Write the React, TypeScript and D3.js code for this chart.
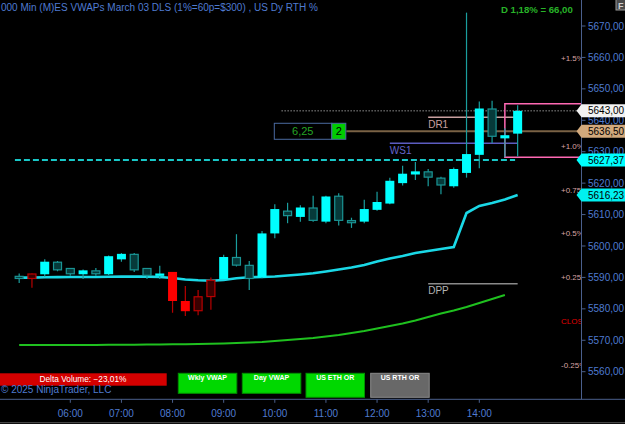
import * as d3 from "d3";

// 15-min bars, March 03
const barTimes = [
  "05:00", "05:15", "05:30", "05:45", "06:00", "06:15", "06:30", "06:45",
  "07:00", "07:15", "07:30", "07:45", "08:00", "08:15", "08:30", "08:45",
  "09:00", "09:15", "09:30", "09:45", "10:00", "10:15", "10:30", "10:45",
  "11:00", "11:15", "11:30", "11:45", "12:00", "12:15", "12:30", "12:45",
  "13:00", "13:15", "13:30", "13:45", "14:00", "14:15", "14:30", "14:45",
];
const opens = [
  5590.5, 5589.5, 5591.0, 5595.0, 5593.0, 5591.0, 5592.25, 5591.0,
  5595.75, 5597.5, 5593.0, 5590.5, 5591.75, 5582.5, 5579.25, 5583.75,
  5589.5, 5596.5, 5594.0, 5590.0, 5604.0, 5611.25, 5609.25, 5612.25,
  5607.75, 5616.0, 5608.25, 5607.75, 5611.5, 5613.5, 5620.0, 5622.75,
  5623.75, 5621.75, 5619.0, 5623.25, 5629.0, 5643.75, 5634.25, 5635.75,
];
const highs = [
  5591.25, 5591.25, 5595.75, 5595.25, 5593.0, 5592.5, 5593.0, 5597.0,
  5597.75, 5597.75, 5593.0, 5593.75, 5591.75, 5587.25, 5586.0, 5590.0,
  5597.25, 5603.75, 5595.25, 5604.75, 5613.25, 5613.75, 5613.0, 5616.0,
  5616.0, 5616.75, 5609.0, 5614.75, 5617.25, 5621.75, 5625.5, 5626.75,
  5624.5, 5622.0, 5625.0, 5674.25, 5646.0, 5646.25, 5637.5, 5644.75,
];
const lows = [
  5588.25, 5586.75, 5590.25, 5592.0, 5590.5, 5589.5, 5590.5, 5590.75,
  5595.0, 5591.75, 5589.5, 5589.5, 5578.75, 5577.75, 5578.0, 5579.75,
  5589.5, 5593.5, 5586.0, 5589.75, 5602.5, 5607.25, 5607.75, 5607.75,
  5607.25, 5606.5, 5605.75, 5607.25, 5611.25, 5613.25, 5619.25, 5621.0,
  5619.0, 5616.5, 5618.5, 5621.75, 5624.75, 5632.75, 5628.25, 5628.5,
];
const closes = [
  5589.5, 5591.25, 5595.0, 5592.25, 5591.0, 5592.25, 5591.0, 5596.75,
  5597.5, 5592.25, 5590.5, 5591.25, 5582.5, 5579.25, 5584.0, 5589.25,
  5596.5, 5593.75, 5589.5, 5604.0, 5611.75, 5609.5, 5612.25, 5608.0,
  5615.75, 5608.0, 5607.25, 5611.75, 5614.0, 5620.75, 5623.0, 5623.75,
  5621.75, 5619.25, 5624.5, 5629.25, 5643.75, 5634.75, 5635.25, 5643.0,
];
// bars flagged as sell signal (drawn red)
const sellBars = ["05:15", "08:00", "08:15", "08:30", "08:45"];

// day vwap (one value per bar)
const dayVwap = [
  5589.92, 5589.92, 5590.04, 5590.08, 5590.14, 5590.14, 5590.14, 5590.2,
  5590.24, 5590.24, 5590.24, 5590.14, 5589.82, 5589.34, 5589.09, 5588.96,
  5589.18, 5589.73, 5590.04, 5590.14, 5590.3, 5590.62, 5590.94, 5591.35,
  5591.89, 5592.52, 5593.16, 5593.96, 5595.07, 5596.03, 5596.82, 5597.78,
  5598.41, 5599.05, 5599.68, 5610.5, 5612.73, 5613.68, 5614.8, 5616.23,
];
// eth vwap (green), ends one bar earlier
const ethVwap = [
  5568.5, 5568.5, 5568.5, 5568.5, 5568.5, 5568.5, 5568.5, 5568.57,
  5568.57, 5568.6, 5568.63, 5568.66, 5568.7, 5568.76, 5568.82, 5568.89,
  5568.98, 5569.14, 5569.3, 5569.46, 5569.78, 5570.09, 5570.41, 5570.73,
  5571.21, 5571.69, 5572.32, 5572.96, 5573.75, 5574.55, 5575.34, 5576.3,
  5577.41, 5578.53, 5579.48, 5580.59, 5581.87, 5583.14, 5584.41,
];

const yTicks = [5560, 5570, 5580, 5590, 5600, 5610, 5620, 5630, 5640, 5650, 5660, 5670];
const xTicks = ["06:00", "07:00", "08:00", "09:00", "10:00", "11:00", "12:00", "13:00", "14:00"];

const prevClose = 5577.0;
const pctLabels = ["+1.5%", "+1.0%", "+0.75%", "+0.5%", "+0.25%", "CLOSE", "-0.25%"];
const pctValues = [1.5, 1.0, 0.75, 0.5, 0.25, 0, -0.25];

const pivotNames = ["DR1", "WS1", "DPP"];
const pivotPrices = [5640.95, 5632.68, 5588.0];
const pivotFrom = ["13:00", "12:15", "13:00"];
const pivotTo = "14:45";

const weeklyLevel = 5627.37;
const orderPrice = 5636.5;
const orderRisk = 6.25;
const orderQty = 2;
const rangeTop = 5645.25;
const rangeBottom = 5628.25;
const deltaVolume = -23.01;
const buttons = ["Wkly VWAP", "Day VWAP", "US ETH OR", "US RTH OR"];

const W = 625;
const H = 424;
const parse = d3.timeParse("%H:%M");
const comma = (v: number) => d3.format(".2f")(v).replace(".", ",");

export default function App() {
  const x = d3
    .scaleTime()
    .domain([parse("06:00")!, parse("14:00")!])
    .range([70.3, 479.3]);
  const y = d3.scaleLinear().domain([5560, 5670]).range([371.7, 26]);
  const axisX = 581.5;
  const axisY = 399.3;
  const bodyW = 9;

  const bars = barTimes.map((t, i) => ({
    t,
    x: x(parse(t)!),
    o: opens[i],
    h: highs[i],
    l: lows[i],
    c: closes[i],
    sell: sellBars.includes(t),
  }));

  const line = d3
    .line<number>()
    .x((_, i) => bars[i].x)
    .y((v) => y(v));

  const last = closes[closes.length - 1];
  const change = last - prevClose;

  // right side price tags
  const tags = [
    { v: last, fill: "#f2f2f2" },
    { v: orderPrice, fill: "#d2a97c" },
    { v: weeklyLevel, fill: "#00ffff" },
    { v: dayVwap[dayVwap.length - 1], fill: "#00f0f0" },
  ];

  const tagPath = (cy: number) =>
    `M${axisX - 5},${cy} L${axisX},${cy - 6.5} H${W} V${cy + 6.5} H${axisX} Z`;

  const boxX = x(parse("10:00")!);
  const boxY = y(orderPrice);

  const btnX = [178.3, 242.3, 306, 370.7];
  const btnH = [20, 20, 24, 24];

  return (
    <svg
      width={W}
      height={H}
      style={{ display: "block", background: "#000", fontFamily: "'Liberation Sans', Arial, sans-serif" }}
    >
      <style>{`body{margin:0;background:#000}`}</style>
      <defs>
        <clipPath id="plot">
          <rect x={0} y={0} width={axisX} height={axisY} />
        </clipPath>
      </defs>
      <rect width={W} height={H} fill="#000" />

      <g clipPath="url(#plot)">
        {/* percent-of-close labels (clipped by the price axis) */}
        {pctLabels.map((lab, i) => (
          <text
            key={lab}
            x={561}
            y={y(prevClose * (1 + pctValues[i] / 100)) + 5.8}
            fontSize={8}
            fill={lab === "CLOSE" ? "#e00000" : "#d8a4a4"}
          >
            {lab}
          </text>
        ))}

        {/* weekly level, dashed */}
        <line
          x1={x(parse("04:55")!)}
          x2={x(parse("14:42")!)}
          y1={y(weeklyLevel)}
          y2={y(weeklyLevel)}
          stroke="#19c8c8"
          strokeWidth={2}
          strokeDasharray="6,3"
        />

        {/* last price dotted */}
        <line
          x1={x(parse("10:08")!)}
          x2={axisX}
          y1={y(last)}
          y2={y(last)}
          stroke="#d8d8d8"
          strokeDasharray="1,2"
        />

        {/* pivots */}
        {pivotNames.map((n, i) => {
          const col = n === "DR1" ? "#c9a0a0" : n === "WS1" ? "#5c5cc0" : "#8a8a8a";
          const tcol = n === "DR1" ? "#c9a0a0" : n === "WS1" ? "#6464c8" : "#b4b4b4";
          const x1 = x(parse(pivotFrom[i])!);
          return (
            <g key={n}>
              <line x1={x1} x2={x(parse(pivotTo)!)} y1={y(pivotPrices[i])} y2={y(pivotPrices[i])} stroke={col} strokeWidth={1.5} />
              <text x={x1} y={y(pivotPrices[i]) + 10.5} fontSize={10} fill={tcol}>
                {n}
              </text>
            </g>
          );
        })}

        {/* order line + box */}
        <line x1={boxX + 71.5} x2={axisX} y1={boxY} y2={boxY} stroke="#7a6245" strokeWidth={2} />
        <rect x={boxX - 0.5} y={boxY - 8} width={57.5} height={16} fill="#000" stroke="#4a6aa0" />
        <text x={boxX + 28} y={boxY + 4} fontSize={11} fill="#25a525" textAnchor="middle">
          {comma(orderRisk)}
        </text>
        <rect x={boxX + 57} y={boxY - 8} width={14} height={16} fill="#00cc00" stroke="#4a6aa0" />
        <text x={boxX + 64} y={boxY + 4} fontSize={11} fill="#000" textAnchor="middle">
          {orderQty}
        </text>

        {/* range box */}
        <path
          d={`M${axisX},${y(rangeTop)} H${x(parse("14:30")!)} V${y(rangeBottom)} H${axisX}`}
          fill="none"
          stroke="#ff69b4"
          strokeWidth={1.5}
        />

        {/* vwaps */}
        <path d={line(ethVwap) ?? ""} fill="none" stroke="#1fc01f" strokeWidth={2} />
        <path d={line(dayVwap) ?? ""} fill="none" stroke="#1ad8e6" strokeWidth={2.6} />

        {/* candles */}
        {bars.map((b) => {
          const up = b.c >= b.o;
          const bright = b.sell ? !up : up;
          const main = b.sell ? "#ff0000" : "#00ffff";
          const wick = b.sell ? "#b80000" : "#1a9e9e";
          const dark = b.sell ? "#3a0000" : "#063a3a";
          const outline = b.sell ? "#b80000" : "#1a9494";
          const top = y(Math.max(b.o, b.c));
          const hgt = Math.max(2, Math.abs(y(b.o) - y(b.c)));
          return (
            <g key={b.t}>
              <line x1={b.x} x2={b.x} y1={y(b.h)} y2={y(b.l)} stroke={wick} strokeWidth={1.2} />
              {bright ? (
                <rect x={b.x - bodyW / 2} y={top} width={bodyW} height={hgt} fill={main} />
              ) : (
                <rect
                  x={b.x - bodyW / 2 + 0.5}
                  y={top + 0.5}
                  width={bodyW - 1}
                  height={Math.max(1, hgt - 1)}
                  fill={dark}
                  stroke={outline}
                  strokeWidth={1.2}
                />
              )}
            </g>
          );
        })}
      </g>

      {/* title + header */}
      <text x={1} y={10.5} fontSize={10} fill="#4f7bd0">
        000 Min (M)ES VWAPs March 03 DLS (1%=60p=$300) , US Dy RTH %
      </text>
      <text x={501} y={13.3} fontSize={9.6} fontWeight="bold" fill="#28b428">
        {`D ${comma((change / prevClose) * 100)}% = ${comma(change)}`}
      </text>
      <rect x={616} y={-1} width={10} height={11} fill="#4a4a4a" stroke="#9a9a9a" />
      <text x={618} y={8.5} fontSize={9} fontWeight="bold" fill="#cfcfcf">
        F
      </text>

      {/* price axis */}
      <line x1={axisX} x2={axisX} y1={0} y2={axisY} stroke="#4a5f8c" />
      {yTicks.map((v) => (
        <g key={v}>
          <line x1={axisX} x2={axisX + 4} y1={y(v)} y2={y(v)} stroke="#4a5f8c" />
          <text x={588} y={y(v) + 3.6} fontSize={10} fill="#4f7bd0">
            {comma(v)}
          </text>
        </g>
      ))}
      {tags.map((tg) => (
        <g key={tg.v}>
          <path d={tagPath(y(tg.v))} fill={tg.fill} />
          <text x={588} y={y(tg.v) + 3.6} fontSize={10} fill="#000">
            {comma(tg.v)}
          </text>
        </g>
      ))}

      {/* time axis */}
      <line x1={0} x2={W} y1={axisY} y2={axisY} stroke="#4a5f8c" />
      {xTicks.map((t) => {
        const px = x(parse(t)!);
        return (
          <g key={t}>
            <line x1={px} x2={px} y1={axisY} y2={axisY + 3.5} stroke="#4a5f8c" />
            <text x={px} y={417.3} fontSize={10} fill="#4f7bd0" textAnchor="middle">
              {t}
            </text>
          </g>
        );
      })}
      <line x1={0} x2={W} y1={422.7} y2={422.7} stroke="#555" />

      {/* bottom widgets */}
      <rect x={0} y={373.3} width={166.7} height={12.4} fill="#d40000" />
      <text x={83} y={382} fontSize={8.3} fill="#fff" textAnchor="middle">
        {`Delta Volume: ${comma(deltaVolume)}%`}
      </text>
      <text x={1} y={392.5} fontSize={10} fill="#4f7bd0">
        © 2025 NinjaTrader, LLC
      </text>
      {buttons.map((b, i) => {
        const gray = b === "US RTH OR";
        return (
          <g key={b}>
            <rect
              x={btnX[i]}
              y={373.3}
              width={58.5}
              height={btnH[i]}
              fill={gray ? "#686868" : "#00d800"}
              stroke={gray ? "#8a8a8a" : "#009000"}
            />
            <text x={btnX[i] + 29.25} y={380} fontSize={7} fontWeight="bold" fill="#fff" textAnchor="middle">
              {b}
            </text>
          </g>
        );
      })}
    </svg>
  );
}
